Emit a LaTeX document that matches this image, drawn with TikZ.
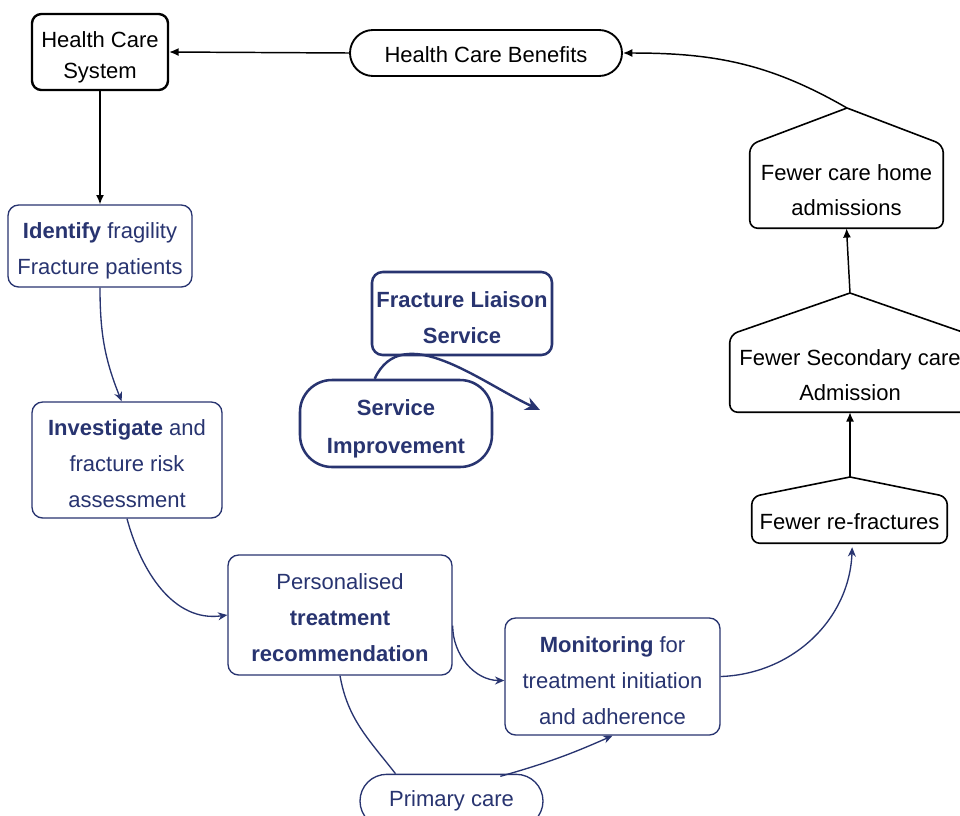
\documentclass[tikz,border=0pt]{standalone}
\usepackage{fontspec}
\setmainfont{Liberation Sans}
\usetikzlibrary{arrows.meta,shapes.misc}
\definecolor{navy}{RGB}{40,52,112}
\newcommand\tpad[1]{\rule{0pt}{#1}}
\begin{document}
\begin{tikzpicture}[x=0.75pt,y=-0.75pt,
  txt/.style={font=\fontsize{16.5}{27}\selectfont, align=center, inner sep=0pt},
  bbox/.style={txt, draw=black, line width=1.4pt, rounded corners=7pt},
  hbody/.style={txt, draw=none},
  houseline/.style={draw=black, line width=1.2pt},
  bluebox/.style={txt, draw=navy, text=navy, line width=1.0pt, rounded corners=8pt},
  bluethick/.style={bluebox, line width=1.9pt},
  blk/.style={draw=black, line width=1.1pt, -{Latex[length=7pt,width=6pt]}},
  blu/.style={draw=navy, line width=1.0pt, -{Stealth[length=7pt,width=6pt]}},
  bluplain/.style={draw=navy, line width=1.0pt},
]
\clip (0,0) rectangle (960,815);
\fill[white] (0,0) rectangle (960,815);

% top row
\node[bbox, line width=1.8pt, minimum width=102pt, minimum height=57pt,
      font=\fontsize{16.5}{23.3}\selectfont] (hcs) at (100,52) {\tpad{19.5pt}Health Care\\System};
\node[txt, draw=black, line width=1.4pt, rounded rectangle, minimum width=204pt, minimum height=34.5pt] (hcb) at (486,53) {\tpad{15pt}Health Care Benefits};

% left chain (blue)
\node[bluebox, minimum width=138pt, minimum height=61.5pt] (idf) at (100,246) {\tpad{19pt}\textbf{Identify} fragility\\Fracture patients};
\node[bluebox, minimum width=142.5pt, minimum height=87pt] (inv) at (127,460) {\tpad{18pt}\textbf{Investigate} and\\fracture risk\\assessment};
\node[bluebox, minimum width=168pt, minimum height=90pt] (per) at (340,615) {\tpad{16pt}Personalised\\\textbf{treatment}\\\textbf{recommendation}};
\node[bluebox, minimum width=161.25pt, minimum height=87.75pt] (mon) at (612.5,676.5) {\tpad{18pt}\textbf{Monitoring} for\\treatment initiation\\and adherence};
\node[txt, draw=navy, text=navy, line width=1.0pt, rounded rectangle, minimum width=137.25pt, minimum height=40pt] (pc) at (451.5,801) {Primary care};

% centre
\node[bluethick, minimum width=135pt, minimum height=62.25pt] (fls) at (462,313.5) {\tpad{18pt}\textbf{Fracture Liaison}\\\textbf{Service}};
\node[bluethick, rounded corners=24pt, minimum width=144pt, minimum height=65.25pt,
      font=\fontsize{16.5}{28.5}\selectfont] (si) at (396,423.5) {\tpad{20pt}\textbf{Service}\\\textbf{Improvement}};
\coordinate (siend) at (540,410);

% right chain (houses)
\node[hbody, minimum width=144.75pt, minimum height=62.25pt, font=\fontsize{16.5}{26.3}\selectfont] (ch) at (846.5,186.5) {\tpad{18pt}Fewer care home\\admissions};
\coordinate (chtop) at (847,108);
\draw[houseline] (chtop) [rounded corners=6pt] -- (ch.north east) -- (ch.south east) -- (ch.south west) -- (ch.north west) [sharp corners] -- (chtop);

\node[hbody, minimum width=180pt, minimum height=57.75pt, font=\fontsize{16.5}{26.3}\selectfont] (sec) at (850,373.5) {\tpad{14pt}Fewer Secondary care\\Admission};
\coordinate (sectop) at (850,293);
\draw[houseline] (sectop) [rounded corners=6pt] -- (sec.north east) -- (sec.south east) -- (sec.south west) -- (sec.north west) [sharp corners] -- (sectop);

\node[hbody, minimum width=146.25pt, minimum height=34.5pt] (rf) at (849.5,520) {\tpad{15pt}Fewer re-fractures};
\coordinate (rftop) at (850,477);
\draw[houseline] (rftop) [rounded corners=6pt] -- (rf.north east) -- (rf.south east) -- (rf.south west) -- (rf.north west) [sharp corners] -- (rftop);

% black connectors
\draw[blk] (hcb.west) -- (hcs.east);
\draw[blk] (hcs.south) -- (idf.north);
\draw[blk] (rftop) -- (sec.south);
\draw[blk] (sectop) -- (ch.south);
\draw[blk] (chtop) to[out=150,in=0] (hcb.east);

% blue connectors
\draw[blu] (idf.south) to[out=-90,in=112] ([xshift=-4pt]inv.north);
\draw[blu] (inv.south) to[out=-75,in=188] (per.west);
\draw[blu] ([yshift=-8pt]per.east) to[out=-90,in=180] ([yshift=-3pt]mon.west);
\draw[bluplain] (per.south) to[out=-80,in=128] ([xshift=-42pt]pc.north);
\draw[blu] ([xshift=-12pt,yshift=-2pt]pc.north east) to[bend right=4] (mon.south);
\draw[blu] (mon.east) to[out=2,in=-92] ([xshift=2pt,yshift=-3pt]rf.south);

% service improvement arrow
\draw[draw=navy, line width=1.8pt, -{Stealth[length=11pt,width=10pt]}] ([xshift=-16pt]si.north) to[out=65,in=155] (siend);
\end{tikzpicture}
\end{document}
